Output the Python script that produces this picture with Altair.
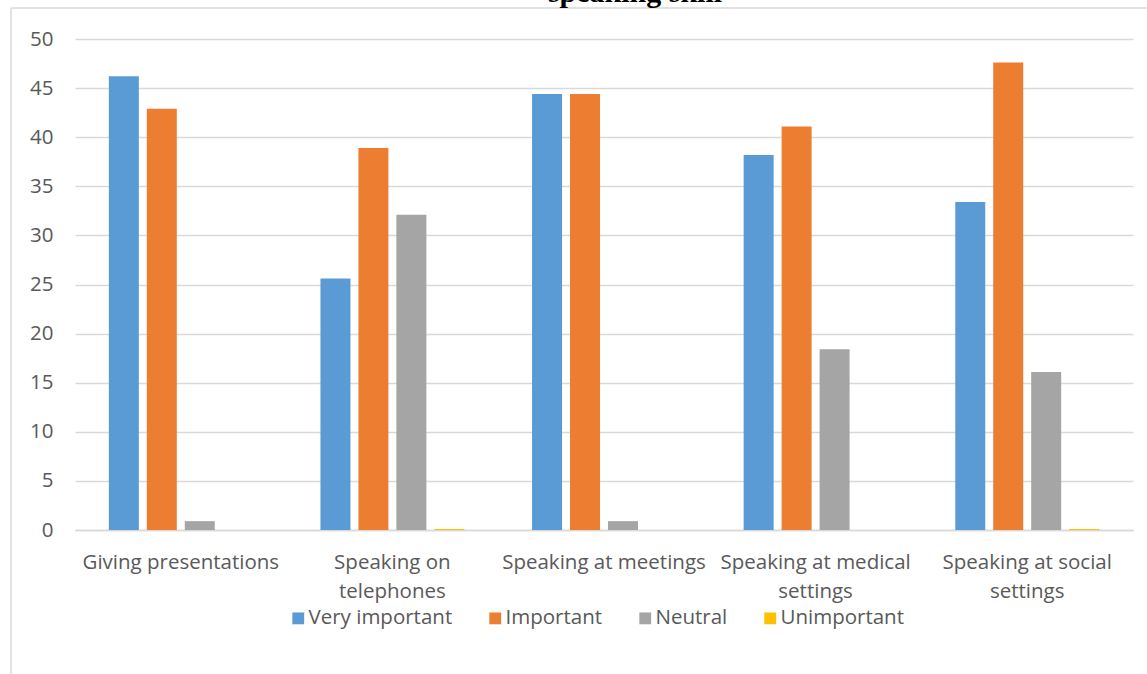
import altair as alt
import pandas as pd

categories = [
    "Giving presentations",
    "Speaking on\ntelephones",
    "Speaking at meetings",
    "Speaking at medical\nsettings",
    "Speaking at social\nsettings",
]
series = ["Very important", "Important", "Neutral", "Unimportant"]
colors = ["#5B9BD5", "#ED7D31", "#A5A5A5", "#FFC000"]

very_important = [46.2, 25.6, 44.4, 38.2, 33.4]
important = [42.9, 38.9, 44.4, 41.1, 47.6]
neutral = [0.9, 32.1, 0.9, 18.4, 16.1]
unimportant = [0.0, 0.1, 0.0, 0.0, 0.1]

title_text = "speaking skill"
y_ticks = [0, 5, 10, 15, 20, 25, 30, 35, 40, 45, 50]

rows = []
for name, vals in zip(series, [very_important, important, neutral, unimportant]):
    for cat, v in zip(categories, vals):
        rows.append({"category": cat, "series": name, "value": v})
df = pd.DataFrame(rows)

FONT = "Open Sans"
TEXT = "#595959"
GRID = "#D9D9D9"
SIZE = 20.5

bars = alt.Chart(df).mark_bar(clip=False).encode(
    x=alt.X(
        "category:N",
        sort=categories,
        scale=alt.Scale(paddingInner=0.32, paddingOuter=0.16),
        axis=alt.Axis(
            title=None,
            labelAngle=0,
            labelExpr="split(datum.label, '\\n')",
            labelFont=FONT,
            labelFontSize=SIZE,
            labelColor=TEXT,
            labelPadding=22,
            labelLineHeight=29,
            labelLimit=400,
            domainColor=GRID,
            domainWidth=1.5,
            ticks=False,
        ),
    ),
    xOffset=alt.XOffset("series:N", sort=series, scale=alt.Scale(paddingInner=0.21)),
    y=alt.Y(
        "value:Q",
        scale=alt.Scale(domain=[0, 50], nice=False),
        axis=alt.Axis(
            title=None,
            values=y_ticks,
            domain=False,
            ticks=False,
            labelFont=FONT,
            labelFontSize=SIZE,
            labelColor=TEXT,
            labelPadding=22,
            gridColor=GRID,
            gridWidth=1.5,
        ),
    ),
    color=alt.Color(
        "series:N",
        sort=series,
        scale=alt.Scale(domain=series, range=colors),
        legend=alt.Legend(
            title=None,
            orient="none",
            direction="horizontal",
            legendX=213,
            legendY=569,
            symbolType="square",
            symbolSize=140,
            symbolStrokeWidth=0,
            labelFont=FONT,
            labelFontSize=SIZE,
            labelColor=TEXT,
            labelOffset=0,
            labelLimit=400,
            columnPadding=32,
        ),
    ),
)

one = pd.DataFrame({"t": [title_text]})

title = alt.Chart(one).mark_text(
    font="Liberation Serif",
    fontSize=30,
    fontWeight="bold",
    color="#000000",
    align="center",
    baseline="alphabetic",
).encode(text="t:N", x=alt.value(560), y=alt.value(-37))

frame_left = alt.Chart(one).mark_rule(color=GRID, strokeWidth=1.5).encode(
    x=alt.value(-64), y=alt.value(-31), y2=alt.value(700)
)
frame_top = alt.Chart(one).mark_rule(color=GRID, strokeWidth=1.5).encode(
    x=alt.value(-64), x2=alt.value(1200), y=alt.value(-31)
)

chart = (
    alt.layer(frame_left, frame_top, bars, title)
    .properties(
        width=1058,
        height=491,
        padding={"left": 75, "top": 39, "right": 14, "bottom": 144},
        autosize=alt.AutoSizeParams(type="none"),
        background="white",
    )
    .configure_view(stroke=None)
)

chart.save("out.html", embed_options={"renderer": "svg", "actions": False})
